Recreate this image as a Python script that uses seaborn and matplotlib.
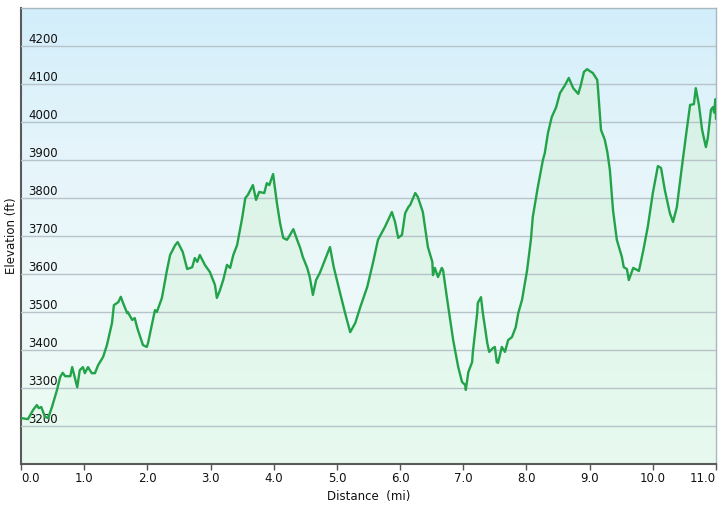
import matplotlib.pyplot as plt
import numpy as np
import pandas as pd
import seaborn as sns
from matplotlib.colors import LinearSegmentedColormap

# elevation profile
distance_mi = [
    0.00, 0.11, 0.19, 0.25, 0.28, 0.32, 0.38, 0.43, 0.49, 0.57,
    0.62, 0.66, 0.70, 0.78, 0.81, 0.89, 0.93, 0.98, 1.01, 1.06,
    1.12, 1.17, 1.22, 1.30, 1.36, 1.44, 1.47, 1.54, 1.58, 1.61,
    1.68, 1.69, 1.76, 1.80, 1.84, 1.92, 1.93, 1.99, 2.01, 2.07,
    2.12, 2.15, 2.23, 2.31, 2.36, 2.44, 2.48, 2.56, 2.63, 2.71,
    2.75, 2.79, 2.83, 2.91, 2.99, 3.07, 3.10, 3.15, 3.20, 3.26,
    3.31, 3.36, 3.42, 3.50, 3.55, 3.59, 3.67, 3.72, 3.77, 3.85,
    3.89, 3.93, 3.99, 4.05, 4.10, 4.15, 4.21, 4.23, 4.31, 4.37,
    4.42, 4.46, 4.53, 4.57, 4.62, 4.67, 4.73, 4.81, 4.89, 4.95,
    5.05, 5.13, 5.21, 5.29, 5.37, 5.48, 5.57, 5.65, 5.76, 5.87,
    5.92, 5.97, 6.03, 6.08, 6.13, 6.16, 6.24, 6.28, 6.35, 6.36,
    6.44, 6.51, 6.52, 6.55, 6.60, 6.66, 6.68, 6.74, 6.84, 6.92,
    6.98, 7.03, 7.04, 7.08, 7.14, 7.15, 7.22, 7.23, 7.28, 7.31,
    7.38, 7.41, 7.47, 7.50, 7.53, 7.55, 7.61, 7.66, 7.71, 7.77,
    7.83, 7.87, 7.93, 8.01, 8.07, 8.10, 8.18, 8.26, 8.29, 8.34,
    8.40, 8.47, 8.53, 8.61, 8.67, 8.74, 8.82, 8.86, 8.91, 8.96,
    9.02, 9.05, 9.12, 9.13, 9.18, 9.24, 9.28, 9.32, 9.37, 9.43,
    9.51, 9.54, 9.59, 9.62, 9.69, 9.78, 9.85, 9.92, 10.00, 10.08,
    10.13, 10.19, 10.27, 10.32, 10.38, 10.46, 10.53, 10.59, 10.65, 10.68,
    10.73, 10.78, 10.84, 10.87, 10.92, 10.95, 10.97, 10.99, 11.00,
]
elevation_ft = [
    3221, 3218, 3242, 3255, 3247, 3250, 3224, 3221, 3250, 3295,
    3329, 3340, 3331, 3331, 3355, 3302, 3347, 3355, 3339, 3355,
    3339, 3339, 3360, 3382, 3413, 3471, 3518, 3526, 3540, 3526,
    3497, 3500, 3479, 3484, 3458, 3418, 3413, 3408, 3418, 3466,
    3505, 3500, 3537, 3610, 3650, 3676, 3684, 3658, 3613, 3618,
    3642, 3632, 3650, 3624, 3605, 3571, 3537, 3558, 3584, 3624,
    3616, 3650, 3676, 3747, 3800, 3808, 3834, 3795, 3816, 3813,
    3839, 3834, 3863, 3787, 3734, 3695, 3690, 3695, 3718, 3690,
    3668, 3645, 3616, 3592, 3545, 3584, 3603, 3637, 3671, 3618,
    3550, 3497, 3447, 3471, 3513, 3566, 3629, 3690, 3724, 3763,
    3737, 3695, 3703, 3760, 3776, 3782, 3813, 3803, 3768, 3763,
    3671, 3632, 3597, 3616, 3592, 3616, 3610, 3539, 3426, 3355,
    3316, 3308, 3295, 3342, 3368, 3392, 3497, 3524, 3539, 3497,
    3418, 3395, 3405, 3408, 3368, 3366, 3408, 3395, 3426, 3434,
    3460, 3497, 3532, 3610, 3690, 3750, 3829, 3900, 3918, 3971,
    4013, 4039, 4076, 4097, 4116, 4089, 4074, 4097, 4132, 4139,
    4132, 4129, 4111, 4092, 3979, 3953, 3921, 3874, 3768, 3690,
    3645, 3618, 3613, 3584, 3616, 3608, 3663, 3724, 3813, 3884,
    3879, 3821, 3760, 3737, 3776, 3882, 3971, 4045, 4047, 4089,
    4045, 3979, 3934, 3958, 4032, 4039, 4025, 4060, 4008,
]
x_ticks = [0.0, 1.0, 2.0, 3.0, 4.0, 5.0, 6.0, 7.0, 8.0, 9.0, 10.0, 11.0]
y_ticks = [3200, 3300, 3400, 3500, 3600, 3700, 3800, 3900, 4000, 4100, 4200]

df = pd.DataFrame({"distance": distance_mi, "elevation": elevation_ft})

sns.set_theme(style="white")
plt.rcParams["font.family"] = ["DejaVu Sans"]

fig = plt.figure(figsize=(7.22, 5.09), dpi=100)
ax = fig.add_axes([0.0291, 0.0884, 0.9626, 0.8959])
x0, x1, y0, y1 = 0, 11, 3100, 4300

# background gradient, light blue on top fading to pale green
grad = np.linspace(0, 1, 256).reshape(-1, 1)
bg_cmap = LinearSegmentedColormap.from_list("bg", ["#ebfbf1", "#eef9f9", "#e6f5fb", "#d2eefa"])
ax.imshow(grad, extent=[x0, x1, y0, y1], origin="lower", aspect="auto",
          cmap=bg_cmap, zorder=0)

# area under the profile, greener gradient clipped to the fill polygon
poly = ax.fill_between(df["distance"], df["elevation"], y0,
                       facecolor="none", edgecolor="none", zorder=1)
fill_cmap = LinearSegmentedColormap.from_list("fill", ["#e8faef", "#dff5ea", "#d3efe6"])
im = ax.imshow(grad, extent=[x0, x1, y0, y1], origin="lower", aspect="auto",
               cmap=fill_cmap, zorder=1)
im.set_clip_path(poly.get_paths()[0], transform=ax.transData)

ax.set_yticks(y_ticks)
ax.grid(axis="y", color="#b7c3c8", lw=1.0, zorder=2)
ax.set_axisbelow(False)

sns.lineplot(data=df, x="distance", y="elevation", color="#22a34a", lw=1.7,
             sort=False, estimator=None, ax=ax, zorder=3)

ax.set_xlim(x0, x1)
ax.set_ylim(y0, y1)

ax.set_xticks(x_ticks)
ax.set_xticklabels([f"{t:.1f}" for t in x_ticks])
ax.tick_params(axis="x", direction="out", length=4, width=1, color="#555555",
               labelsize=8.5, pad=2, labelcolor="#111111", bottom=True)
xl = ax.get_xticklabels()
xl[0].set_ha("left")
xl[-1].set_ha("right")

ax.set_yticklabels([str(t) for t in y_ticks])
ax.tick_params(axis="y", length=0, pad=-5, labelsize=8.5, labelcolor="#111111")
for lbl in ax.get_yticklabels():
    lbl.set_ha("left")
    lbl.set_va("bottom")
    lbl.set_zorder(4)

for side in ["left", "bottom"]:
    ax.spines[side].set_color("#5a5a5a")
    ax.spines[side].set_linewidth(1.5)
for side in ["top", "right"]:
    ax.spines[side].set_color("#a8b8c0")
    ax.spines[side].set_linewidth(1.0)

ax.set_ylabel("Elevation (ft)", fontsize=8.5, labelpad=2, color="#111111")
ax.set_xlabel("Distance  (mi)", fontsize=8.5, labelpad=3, color="#111111")

fig.savefig("out.png", dpi=100, facecolor="white")
